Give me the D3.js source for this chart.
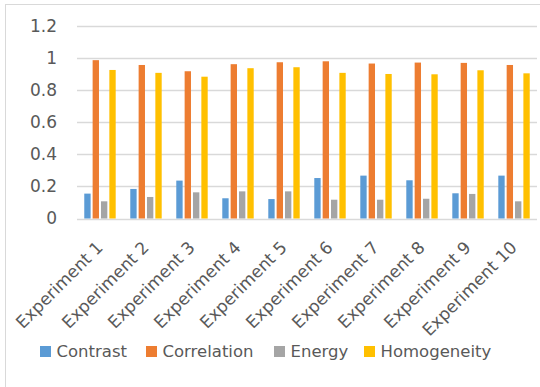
<!DOCTYPE html>
<html>
<head>
<meta charset="utf-8">
<script src="https://cdn.jsdelivr.net/npm/d3@7"></script>
<style>
    body { margin: 0; background: #fff; }
    svg { display: block; font-family: "DejaVu Sans", sans-serif; }
</style>
</head>
<body>
<svg id="chart"></svg>
<script>
// chart data
const experiments = ['Experiment 1', 'Experiment 2', 'Experiment 3', 'Experiment 4', 'Experiment 5',
    'Experiment 6', 'Experiment 7', 'Experiment 8', 'Experiment 9', 'Experiment 10'];
const seriesNames = ['Contrast', 'Correlation', 'Energy', 'Homogeneity'];
const contrast = [0.155, 0.184, 0.236, 0.126, 0.121, 0.252, 0.267, 0.238, 0.157, 0.267];
const correlation = [0.986, 0.956, 0.917, 0.961, 0.973, 0.979, 0.965, 0.971, 0.969, 0.956];
const energy = [0.107, 0.134, 0.163, 0.169, 0.169, 0.117, 0.117, 0.123, 0.153, 0.107];
const homogeneity = [0.925, 0.907, 0.883, 0.936, 0.942, 0.907, 0.900, 0.898, 0.923, 0.904];
const yTicks = [0, 0.2, 0.4, 0.6, 0.8, 1, 1.2];

function drawChart() {
    const width = 540;
    const height = 387;
    const plot = { left: 77, right: 537, top: 25.8, bottom: 218.5 };
    const colors = ['#5B9BD5', '#ED7D31', '#A5A5A5', '#FFC000'];
    const textColor = '#595959';
    const gridColor = '#D9D9D9';

    const values = [contrast, correlation, energy, homogeneity];

    const svg = d3.select('#chart')
        .attr('width', width)
        .attr('height', height);

    // chart frame
    svg.append('rect')
        .attr('x', 5.5)
        .attr('y', 4.5)
        .attr('width', width)
        .attr('height', height)
        .attr('fill', 'none')
        .attr('stroke', gridColor);

    // scales
    const x0 = d3.scaleBand()
        .domain(experiments)
        .range([plot.left, plot.right])
        .paddingInner(0.317)
        .paddingOuter(0.158);
    const x1 = d3.scaleBand()
        .domain(seriesNames)
        .range([0, x0.bandwidth()])
        .paddingInner(0.24);
    const y = d3.scaleLinear()
        .domain([0, 1.2])
        .range([plot.bottom, plot.top]);

    // gridlines
    svg.append('g')
        .selectAll('line')
        .data(yTicks)
        .enter().append('line')
        .attr('x1', plot.left)
        .attr('x2', plot.right)
        .attr('y1', d => Math.round(y(d)) + 0.5)
        .attr('y2', d => Math.round(y(d)) + 0.5)
        .attr('stroke', gridColor)
        .attr('stroke-width', d => d === 0 ? 1.5 : 1.3);

    // y axis labels
    const yAxis = svg.append('g')
        .attr('transform', `translate(${plot.left}, 0)`)
        .call(d3.axisLeft(y).tickValues(yTicks).tickSize(0).tickPadding(20).tickFormat(d3.format('')));
    yAxis.select('.domain').remove();
    yAxis.selectAll('text')
        .attr('fill', textColor)
        .style('font-size', '17px')
        .style('font-family', '"DejaVu Sans", sans-serif');

    // bars
    const groups = svg.append('g')
        .selectAll('g')
        .data(experiments)
        .enter().append('g')
        .attr('transform', d => `translate(${x0(d)}, 0)`);

    groups.selectAll('rect')
        .data((d, i) => seriesNames.map((s, k) => ({ series: s, value: values[k][i], k: k })))
        .enter().append('rect')
        .attr('x', d => x1(d.series))
        .attr('width', x1.bandwidth())
        .attr('y', d => y(d.value))
        .attr('height', d => y(0) - y(d.value))
        .attr('fill', d => colors[d.k]);

    // x axis labels, rotated
    const xAxis = svg.append('g')
        .attr('transform', `translate(0, ${plot.bottom})`)
        .call(d3.axisBottom(x0).tickSize(0).tickPadding(0));
    xAxis.select('.domain').remove();
    xAxis.selectAll('text')
        .attr('fill', textColor)
        .style('font-size', '17px')
        .style('font-family', '"DejaVu Sans", sans-serif')
        .attr('text-anchor', 'end')
        .attr('dy', 0)
        .attr('y', 0)
        .attr('transform', 'translate(4, 30) rotate(-45)');

    // legend
    const legendItems = [
        { name: 'Contrast', x: 40 },
        { name: 'Correlation', x: 146 },
        { name: 'Energy', x: 274 },
        { name: 'Homogeneity', x: 364 }
    ];
    const legend = svg.append('g')
        .selectAll('g')
        .data(legendItems)
        .enter().append('g')
        .attr('transform', d => `translate(${d.x}, 346)`);

    legend.append('rect')
        .attr('width', 11)
        .attr('height', 11)
        .attr('fill', (d, i) => colors[i]);

    legend.append('text')
        .attr('x', 16.5)
        .attr('y', 5.5)
        .attr('dy', '0.36em')
        .attr('fill', textColor)
        .style('font-size', '16.5px')
        .text(d => d.name);
}

window.addEventListener('load', drawChart);
</script>
</body>
</html>
